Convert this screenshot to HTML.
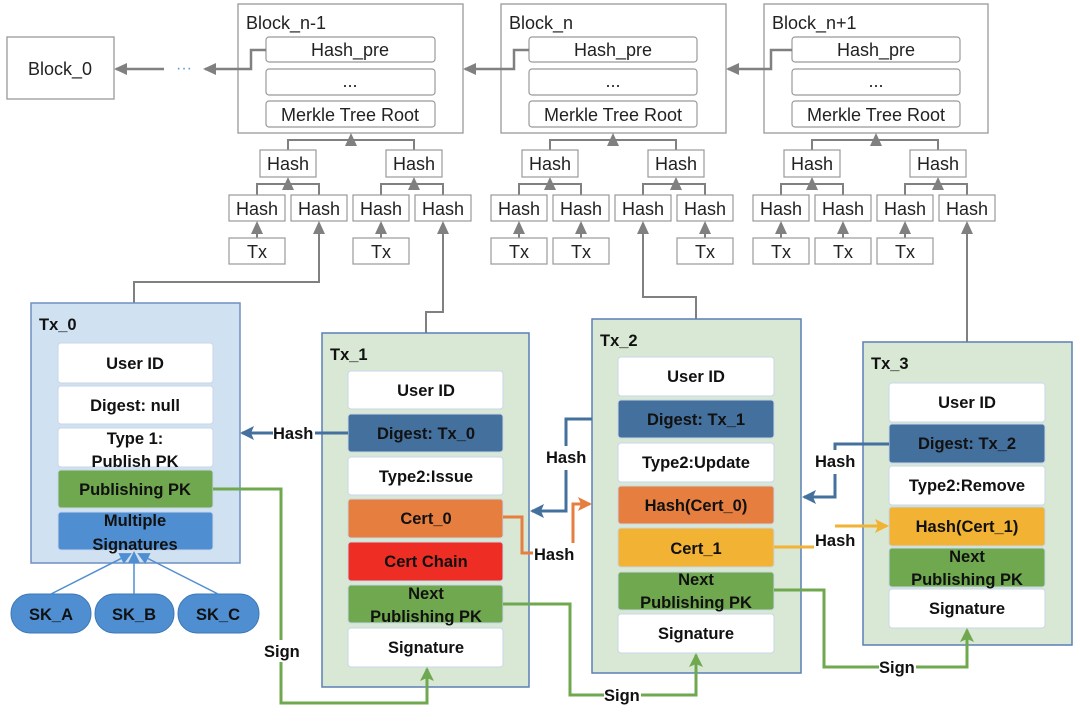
<!DOCTYPE html>
<html><head><meta charset="utf-8"><style>
html,body{margin:0;padding:0;background:#fff;}
svg{display:block;}
.r{font-family:"Liberation Sans",sans-serif;font-size:18px;fill:#222;}
.b{font-family:"Liberation Sans",sans-serif;font-size:16.5px;font-weight:bold;fill:#111;}
</style></head><body>
<svg width="1080" height="721" viewBox="0 0 1080 721" xmlns="http://www.w3.org/2000/svg">
<defs>
<marker id="ag" markerWidth="14" markerHeight="14" refX="11" refY="6" orient="auto" markerUnits="userSpaceOnUse"><path d="M0,0 L13,6 L0,12 z" fill="#808080"/></marker>
<marker id="ab" markerWidth="14" markerHeight="14" refX="12" refY="7" orient="auto" markerUnits="userSpaceOnUse"><path d="M0,0 L14,7 L0,14 L3,7 z" fill="#44709d"/></marker>
<marker id="ao" markerWidth="14" markerHeight="14" refX="12" refY="7" orient="auto" markerUnits="userSpaceOnUse"><path d="M0,0 L14,7 L0,14 L3,7 z" fill="#e57e3e"/></marker>
<marker id="ay" markerWidth="14" markerHeight="14" refX="12" refY="7" orient="auto" markerUnits="userSpaceOnUse"><path d="M0,0 L14,7 L0,14 L3,7 z" fill="#f2b233"/></marker>
<marker id="agr" markerWidth="14" markerHeight="14" refX="12" refY="7" orient="auto" markerUnits="userSpaceOnUse"><path d="M0,0 L14,7 L0,14 L3,7 z" fill="#6fa84f"/></marker>
<marker id="al" markerWidth="12" markerHeight="12" refX="10" refY="6" orient="auto" markerUnits="userSpaceOnUse"><path d="M0,0 L12,6 L0,12 z" fill="#4f8ed0"/></marker>
</defs>

<g fill="#fff" stroke="#999" stroke-width="1.3">
<rect x="7" y="37" width="107" height="62"/>
<rect x="238" y="4" width="225" height="129"/>
<rect x="501" y="4" width="225" height="129"/>
<rect x="764" y="4" width="224" height="129"/>
</g>
<text class="r" x="60" y="75" text-anchor="middle">Block_0</text>
<text class="r" x="246" y="29">Block_n-1</text>
<text class="r" x="509" y="29">Block_n</text>
<text class="r" x="772" y="29">Block_n+1</text>
<g fill="#fff" stroke="#999" stroke-width="1.2">
<rect x="266" y="37" width="169" height="25" rx="3"/><rect x="266" y="69" width="169" height="26" rx="3"/><rect x="266" y="101" width="169" height="26" rx="3"/>
<rect x="529" y="37" width="168" height="25" rx="3"/><rect x="529" y="69" width="168" height="26" rx="3"/><rect x="529" y="101" width="168" height="26" rx="3"/>
<rect x="792" y="37" width="168" height="25" rx="3"/><rect x="792" y="69" width="168" height="26" rx="3"/><rect x="792" y="101" width="168" height="26" rx="3"/>
</g>
<g class="r" text-anchor="middle">
<text x="350" y="56">Hash_pre</text><text x="350" y="87">...</text><text x="350" y="121">Merkle Tree Root</text>
<text x="613" y="56">Hash_pre</text><text x="613" y="87">...</text><text x="613" y="121">Merkle Tree Root</text>
<text x="876" y="56">Hash_pre</text><text x="876" y="87">...</text><text x="876" y="121">Merkle Tree Root</text>
</g>
<g stroke="#808080" stroke-width="2.5" fill="none">
<path d="M266,50 H251 V69 H205" marker-end="url(#ag)"/>
<path d="M164,69 H116" marker-end="url(#ag)"/>
<path d="M529,50 H514 V69 H465" marker-end="url(#ag)"/>
<path d="M792,50 H771 V69 H728" marker-end="url(#ag)"/>
</g>
<text x="184" y="73" text-anchor="middle" font-family="Liberation Sans" font-size="16" fill="#5b9bd5">···</text>

<g stroke="#808080" stroke-width="2" fill="none">
<path d="M288,150 V140 H414 V150"/><path d="M351,140 V135" marker-end="url(#ag)"/>
<path d="M257,195 V184 H319 V195"/><path d="M288,184 V179" marker-end="url(#ag)"/>
<path d="M381,195 V184 H443 V195"/><path d="M414,184 V179" marker-end="url(#ag)"/>
<path d="M257,238 V223" marker-end="url(#ag)"/><path d="M381,238 V223" marker-end="url(#ag)"/>
<path d="M550,150 V140 H676 V150"/><path d="M613,140 V135" marker-end="url(#ag)"/>
<path d="M519,195 V184 H581 V195"/><path d="M550,184 V179" marker-end="url(#ag)"/>
<path d="M643,195 V184 H705 V195"/><path d="M676,184 V179" marker-end="url(#ag)"/>
<path d="M519,238 V223" marker-end="url(#ag)"/><path d="M581,238 V223" marker-end="url(#ag)"/><path d="M705,238 V223" marker-end="url(#ag)"/>
<path d="M812,150 V140 H938 V150"/><path d="M876,140 V135" marker-end="url(#ag)"/>
<path d="M781,195 V184 H843 V195"/><path d="M812,184 V179" marker-end="url(#ag)"/>
<path d="M905,195 V184 H967 V195"/><path d="M938,184 V179" marker-end="url(#ag)"/>
<path d="M781,238 V223" marker-end="url(#ag)"/><path d="M843,238 V223" marker-end="url(#ag)"/><path d="M905,238 V223" marker-end="url(#ag)"/>
<path d="M134,303 V282 H319 V223" marker-end="url(#ag)"/>
<path d="M426,333 V312 H443 V223" marker-end="url(#ag)"/>
<path d="M696,319 V297 H643 V223" marker-end="url(#ag)"/>
<path d="M967,342 V223" marker-end="url(#ag)"/>
</g>
<g fill="#fff" stroke="#999" stroke-width="1.2">
<rect x="260" y="150" width="56" height="27"/><rect x="386" y="150" width="56" height="27"/>
<rect x="229" y="195" width="56" height="26"/><rect x="291" y="195" width="56" height="26"/><rect x="353" y="195" width="56" height="26"/><rect x="415" y="195" width="56" height="26"/>
<rect x="229" y="238" width="56" height="26"/><rect x="353" y="238" width="56" height="26"/>
<rect x="522" y="150" width="56" height="27"/><rect x="648" y="150" width="56" height="27"/>
<rect x="491" y="195" width="56" height="26"/><rect x="553" y="195" width="56" height="26"/><rect x="615" y="195" width="56" height="26"/><rect x="677" y="195" width="56" height="26"/>
<rect x="491" y="238" width="56" height="26"/><rect x="553" y="238" width="56" height="26"/><rect x="677" y="238" width="56" height="26"/>
<rect x="784" y="150" width="56" height="27"/><rect x="910" y="150" width="56" height="27"/>
<rect x="753" y="195" width="56" height="26"/><rect x="815" y="195" width="56" height="26"/><rect x="877" y="195" width="56" height="26"/><rect x="939" y="195" width="56" height="26"/>
<rect x="753" y="238" width="56" height="26"/><rect x="815" y="238" width="56" height="26"/><rect x="877" y="238" width="56" height="26"/>
</g>
<g class="r" text-anchor="middle">
<text x="288" y="170">Hash</text><text x="414" y="170">Hash</text>
<text x="257" y="215">Hash</text><text x="319" y="215">Hash</text><text x="381" y="215">Hash</text><text x="443" y="215">Hash</text>
<text x="257" y="258">Tx</text><text x="381" y="258">Tx</text>
<text x="550" y="170">Hash</text><text x="676" y="170">Hash</text>
<text x="519" y="215">Hash</text><text x="581" y="215">Hash</text><text x="643" y="215">Hash</text><text x="705" y="215">Hash</text>
<text x="519" y="258">Tx</text><text x="581" y="258">Tx</text><text x="705" y="258">Tx</text>
<text x="812" y="170">Hash</text><text x="938" y="170">Hash</text>
<text x="781" y="215">Hash</text><text x="843" y="215">Hash</text><text x="905" y="215">Hash</text><text x="967" y="215">Hash</text>
<text x="781" y="258">Tx</text><text x="843" y="258">Tx</text><text x="905" y="258">Tx</text>
</g>

<rect x="31" y="303" width="209" height="260" fill="#d0e1f1" stroke="#6f8fc0" stroke-width="1.5"/>
<rect x="322" y="333" width="207" height="354" fill="#d9e8d4" stroke="#5a7fb5" stroke-width="1.5"/>
<rect x="592" y="319" width="209" height="354" fill="#d9e8d4" stroke="#5a7fb5" stroke-width="1.5"/>
<rect x="863" y="342" width="209" height="303" fill="#d9e8d4" stroke="#5a7fb5" stroke-width="1.5"/>
<g class="b"><text x="39" y="330">Tx_0</text><text x="330" y="360">Tx_1</text><text x="600" y="346">Tx_2</text><text x="871" y="369">Tx_3</text></g>

<g stroke="#c8d6ea" stroke-width="1">
<rect x="58" y="343" width="155" height="40" rx="3" fill="#fff"/>
<rect x="58" y="386" width="155" height="38" rx="3" fill="#fff"/>
<rect x="58" y="428" width="155" height="39" rx="3" fill="#fff"/>
<rect x="58" y="470" width="155" height="38" rx="3" fill="#6fa84f"/>
<rect x="58" y="512" width="155" height="38" rx="3" fill="#4f8ed0"/>
<rect x="348" y="371" width="155" height="38" rx="3" fill="#fff"/>
<rect x="348" y="414" width="155" height="38" rx="3" fill="#44709d"/>
<rect x="348" y="457" width="155" height="38" rx="3" fill="#fff"/>
<rect x="348" y="499" width="155" height="39" rx="3" fill="#e57e3e"/>
<rect x="348" y="542" width="155" height="39" rx="3" fill="#ee2e24"/>
<rect x="348" y="585" width="155" height="38" rx="3" fill="#6fa84f"/>
<rect x="348" y="628" width="155" height="39" rx="3" fill="#fff"/>
<rect x="618" y="357" width="156" height="39" rx="3" fill="#fff"/>
<rect x="618" y="400" width="156" height="38" rx="3" fill="#44709d"/>
<rect x="618" y="443" width="156" height="39" rx="3" fill="#fff"/>
<rect x="618" y="486" width="156" height="38" rx="3" fill="#e57e3e"/>
<rect x="618" y="528" width="156" height="39" rx="3" fill="#f2b233"/>
<rect x="618" y="572" width="156" height="38" rx="3" fill="#6fa84f"/>
<rect x="618" y="614" width="156" height="39" rx="3" fill="#fff"/>
<rect x="889" y="383" width="156" height="39" rx="3" fill="#fff"/>
<rect x="889" y="424" width="156" height="39" rx="3" fill="#44709d"/>
<rect x="889" y="466" width="156" height="39" rx="3" fill="#fff"/>
<rect x="889" y="507" width="156" height="39" rx="3" fill="#f2b233"/>
<rect x="889" y="548" width="156" height="39" rx="3" fill="#6fa84f"/>
<rect x="889" y="589" width="156" height="39" rx="3" fill="#fff"/>
</g>
<g class="b" text-anchor="middle">
<text x="135" y="369">User ID</text><text x="135" y="411">Digest: null</text>
<text x="135" y="444">Type 1:</text><text x="135" y="467">Publish PK</text>
<text x="135" y="495">Publishing PK</text>
<text x="135" y="526">Multiple</text><text x="135" y="550">Signatures</text>
<text x="426" y="396">User ID</text><text x="426" y="439">Digest: Tx_0</text><text x="426" y="482">Type2:Issue</text>
<text x="426" y="524">Cert_0</text><text x="426" y="567">Cert Chain</text>
<text x="426" y="599">Next</text><text x="426" y="622">Publishing PK</text><text x="426" y="653">Signature</text>
<text x="696" y="382">User ID</text><text x="696" y="425">Digest: Tx_1</text><text x="696" y="468">Type2:Update</text>
<text x="696" y="511">Hash(Cert_0)</text><text x="696" y="554">Cert_1</text>
<text x="696" y="585">Next</text><text x="696" y="608">Publishing PK</text><text x="696" y="639">Signature</text>
<text x="967" y="408">User ID</text><text x="967" y="449">Digest: Tx_2</text><text x="967" y="491">Type2:Remove</text>
<text x="967" y="532">Hash(Cert_1)</text>
<text x="967" y="562">Next</text><text x="967" y="585">Publishing PK</text><text x="967" y="614">Signature</text>
</g>

<g fill="#4f8ed0" stroke="#3d78b8" stroke-width="1">
<rect x="11" y="594" width="80" height="39" rx="19"/>
<rect x="95" y="594" width="79" height="39" rx="19"/>
<rect x="178" y="594" width="81" height="39" rx="19"/>
</g>
<g class="b" text-anchor="middle"><text x="51" y="620">SK_A</text><text x="134" y="620">SK_B</text><text x="218" y="620">SK_C</text></g>
<g stroke="#4f8ed0" stroke-width="1.5" fill="none">
<path d="M51,594 L130,554" marker-end="url(#al)"/>
<path d="M134,594 V553" marker-end="url(#al)"/>
<path d="M218,594 L139,554" marker-end="url(#al)"/>
</g>

<g fill="none" stroke-width="3">
<path d="M348,433 H315 M273,433 H242" stroke="#44709d" marker-end="url(#ab)"/>
<path d="M592,419 H566 V446 M566,470 V511 H532" stroke="#44709d" marker-end="url(#ab)"/>
<path d="M889,444 H835 V450 M835,474 V497 H804" stroke="#44709d" marker-end="url(#ab)"/>
<path d="M503,517 H522 V553 H533" stroke="#e57e3e"/>
<path d="M573,543 V504 H590" stroke="#e57e3e" marker-end="url(#ao)"/>
<path d="M774,547 H814" stroke="#f2b233"/>
<path d="M835,526 H887" stroke="#f2b233" marker-end="url(#ay)"/>
<path d="M213,489 H281 V640 M281,662 V703 H427 V669" stroke="#6fa84f" marker-end="url(#agr)"/>
<path d="M503,604 H570 V695 H604 M641,695 H696 V655" stroke="#6fa84f" marker-end="url(#agr)"/>
<path d="M774,590 H824 V667 H879 M916,667 H967 V630" stroke="#6fa84f" marker-end="url(#agr)"/>
</g>
<g class="b">
<text x="273" y="439">Hash</text>
<text x="546" y="463">Hash</text>
<text x="534" y="560">Hash</text>
<text x="815" y="467">Hash</text>
<text x="815" y="546">Hash</text>
<text x="264" y="657">Sign</text>
<text x="604" y="701">Sign</text>
<text x="879" y="673">Sign</text>
</g>
</svg>
</body></html>
